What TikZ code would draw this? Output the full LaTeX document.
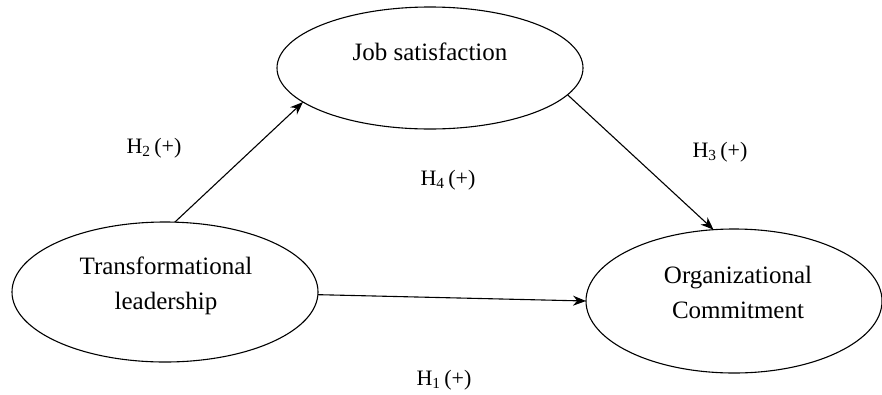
\documentclass[tikz,border=0pt]{standalone}
\usepackage{fontspec}
\setmainfont{Liberation Serif}
\usetikzlibrary{shapes.geometric,arrows.meta}
\begin{document}
\begin{tikzpicture}[x=1pt,y=-1pt,
  construct/.style={draw, ellipse, line width=1.1pt, inner sep=0pt, outer sep=0pt},
  ctext/.style={align=center, font=\fontsize{25}{35}\selectfont, inner sep=0pt},
  hlabel/.style={font=\fontsize{22}{26}\selectfont, inner sep=0pt},
  arr/.style={line width=1.1pt, -{Stealth[length=13pt,width=10pt]}}]
\useasboundingbox (0,0) rectangle (882,394);
\node[construct, minimum width=306pt, minimum height=122pt] (js) at (430,68) {};
\node[construct, minimum width=306pt, minimum height=140pt] (tl) at (165,292) {};
\node[construct, minimum width=296pt, minimum height=144pt] (oc) at (734,301) {};
\node[ctext] (jst) at (430,52) {Job satisfaction};
\node[ctext] (tlt) at (166,286) {Transformational\\leadership};
\node[ctext] (oct) at (738,292) {Organizational\\Commitment};
\draw[arr] (tl.82) -- (js.195);
\draw[arr] (js.-11.5) -- (oc.106.5);
\draw[arr] (tl.-1) -- (oc.180.8);
\node[hlabel] (h2) at (154,148) {H\textsubscript{2}\,(+)};
\node[hlabel] (h4) at (448,180) {H\textsubscript{4}\,(+)};
\node[hlabel] (h3) at (720,152) {H\textsubscript{3}\,(+)};
\node[hlabel] (h1) at (444,380) {H\textsubscript{1}\,(+)};
\end{tikzpicture}
\end{document}
